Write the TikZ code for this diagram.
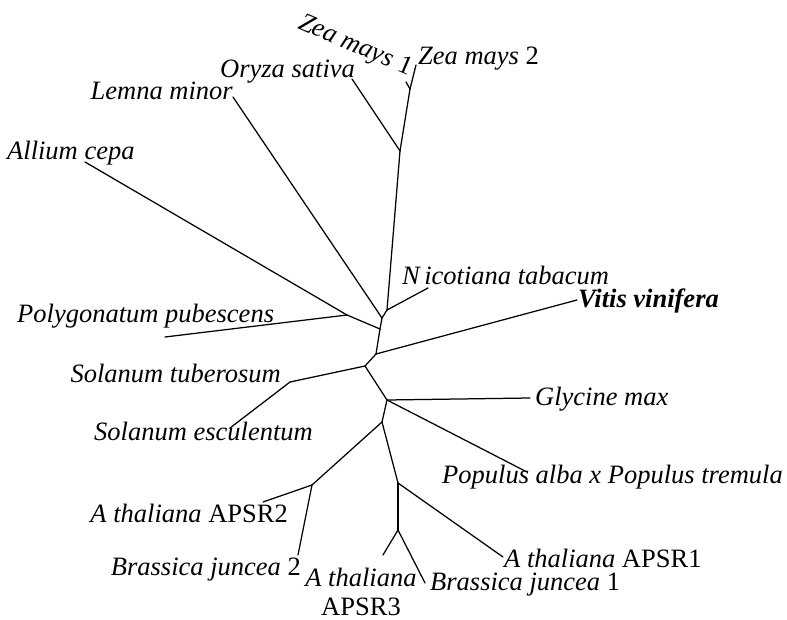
\documentclass[tikz,border=0pt]{standalone}
\usepackage{fontspec}
\setmainfont{Liberation Serif}
\tikzset{
	leaf/.style = {inner sep = 0pt,
				   font = \fontsize{26.5}{29}\selectfont},
	branch/.style = {line width = 1.25pt, line cap = round, line join = round}
}
\begin{document}
\begin{tikzpicture}[x = 1pt, y = -1pt]
	\useasboundingbox (0, 0) rectangle (787, 620);

	\coordinate (ZM) at (410, 89);
	\coordinate (OR) at (400, 151);
	\coordinate (NI) at (387, 310);
	\coordinate (LE) at (382, 318);
	\coordinate (MO) at (347, 315);
	\coordinate (AB) at (380, 329);
	\coordinate (VI) at (376, 354);
	\coordinate (SO) at (365, 366);
	\coordinate (ST) at (290, 382);
	\coordinate (GL) at (387, 400);
	\coordinate (BR) at (382, 422);
	\coordinate (B2) at (312, 485);
	\coordinate (B1) at (398, 483);
	\coordinate (B3) at (398, 530);

	\coordinate (zea1) at (406, 82);
	\coordinate (zea2) at (416, 65);
	\coordinate (oryza) at (352, 79);
	\coordinate (nicot) at (428, 288);
	\coordinate (lemna) at (233, 97);
	\coordinate (allium) at (85, 162);
	\coordinate (polyg) at (165, 337);
	\coordinate (vitis) at (577, 300);
	\coordinate (solesc) at (230, 428);
	\coordinate (glyc) at (530, 398);
	\coordinate (popul) at (527, 472);
	\coordinate (apsr2) at (263, 502);
	\coordinate (bj2) at (298, 555);
	\coordinate (apsr1) at (503, 557);
	\coordinate (apsr3) at (383, 555);
	\coordinate (bj1) at (425, 583);

	\draw (297, 28) node[leaf,
					  anchor = base west,
					  rotate = -23
			   ](Lzea1){\textit{Zea mays} 1};
	\draw (418, 65) node[leaf,
					  anchor = base west
			   ](Lzea2){\textit{Zea mays} 2};
	\draw (220, 78) node[leaf,
					  anchor = base west
			   ](Loryza){\textit{Oryza sativa}};
	\draw (233, 100) node[leaf,
					  anchor = base east
			   ](Llemna){\textit{Lemna minor}};
	\draw (7, 160) node[leaf,
					  anchor = base west
			   ](Lallium){\textit{Allium cepa}};
	\draw (17, 323) node[leaf,
					  anchor = base west
			   ](Lpolyg){\textit{Polygonatum pubescens}};
	\draw (402, 285) node[leaf,
					  anchor = base west
			   ](Lnicot){\textit{N\,icotiana tabacum}};
	\draw (578, 308) node[leaf,
					  anchor = base west
			   ](Lvitis){\textbf{\textit{Vitis vinifera}}};
	\draw (281, 382) node[leaf,
					  anchor = base east
			   ](Lsoltub){\textit{Solanum tuberosum}};
	\draw (313, 440) node[leaf,
					  anchor = base east
			   ](Lsolesc){\textit{Solanum esculentum}};
	\draw (535, 405) node[leaf,
					  anchor = base west
			   ](Lglyc){\textit{Glycine max}};
	\draw (442, 483) node[leaf,
					  anchor = base west
			   ](Lpopul){\textit{Populus alba x Populus tremula}};
	\draw (288, 522) node[leaf,
					  anchor = base east
			   ](Lapsr2){\textit{A thaliana} APSR2};
	\draw (301, 575) node[leaf,
					  anchor = base east
			   ](Lbj2){\textit{Brassica juncea} 2};
	\draw (361, 568) node[leaf,
					  anchor = north,
					  align = center
			   ](Lapsr3){\textit{A thaliana}\\APSR3};
	\draw (430, 590) node[leaf,
					  anchor = base west
			   ](Lbj1){\textit{Brassica juncea} 1};
	\draw (504, 567) node[leaf,
					  anchor = base west
			   ](Lapsr1){\textit{A thaliana} APSR1};

	\draw[branch] (ZM) -- (zea1);
	\draw[branch] (ZM) -- (zea2);
	\draw[branch] (OR) -- (ZM);
	\draw[branch] (OR) -- (oryza);

	\draw[branch] (NI) -- (OR);
	\draw[branch] (NI) -- (nicot);
	\draw[branch] (LE) -- (NI);
	\draw[branch] (LE) -- (lemna);

	\draw[branch] (MO) -- (allium);
	\draw[branch] (MO) -- (polyg);
	\draw[branch] (AB) -- (LE);
	\draw[branch] (AB) -- (MO);

	\draw[branch] (VI) -- (AB);
	\draw[branch] (VI) -- (vitis);
	\draw[branch] (SO) -- (VI);
	\draw[branch] (SO) -- (ST);
	\draw[branch] (ST) -- (solesc);

	\draw[branch] (GL) -- (SO);
	\draw[branch] (GL) -- (glyc);
	\draw[branch] (GL) -- (popul);
	\draw[branch] (BR) -- (GL);

	\draw[branch] (BR) -- (B2);
	\draw[branch] (B2) -- (apsr2);
	\draw[branch] (B2) -- (bj2);
	\draw[branch] (BR) -- (B1);
	\draw[branch] (B1) -- (apsr1);
	\draw[branch] (B1) -- (B3);
	\draw[branch] (B3) -- (apsr3);
	\draw[branch] (B3) -- (bj1);
\end{tikzpicture}
\end{document}
